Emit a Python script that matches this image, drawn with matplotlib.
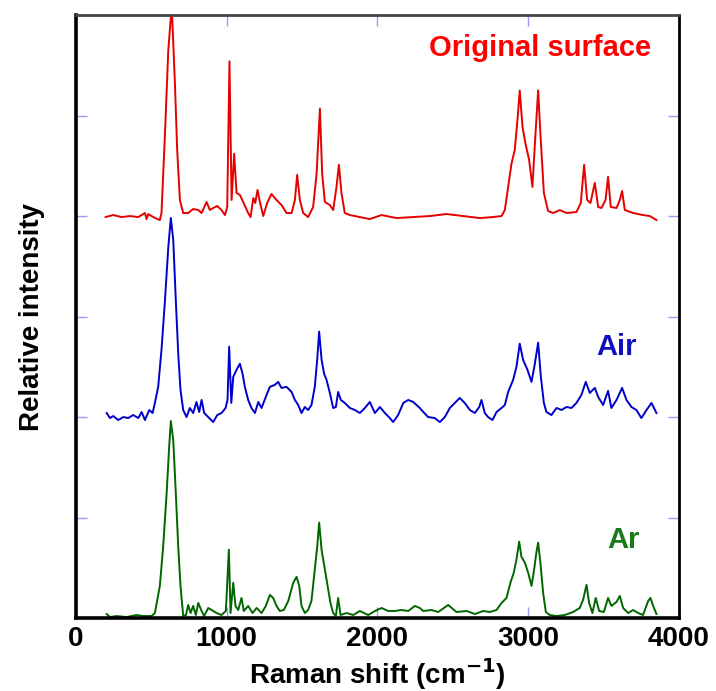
import matplotlib
matplotlib.use('Agg')
import matplotlib.pyplot as plt

# Espectros Raman (cm-1, intensidad relativa sobre la linea base)
red_x = [197, 248, 303, 358, 414, 458, 469, 480, 513, 557, 568, 591, 613, 630, 639, 657, 672, 690, 712, 745,
         778, 812, 834, 867, 889, 911, 938, 966, 989, 1004, 1019, 1033, 1050, 1066, 1088, 1110, 1143, 1159, 1177, 1190,
         1205, 1221, 1243, 1269, 1298, 1331, 1364, 1398, 1431, 1453, 1468, 1486, 1508, 1541, 1574, 1597, 1619, 1634, 1652, 1685,
         1707, 1729, 1745, 1762, 1784, 1818, 1884, 1950, 2028, 2127, 2238, 2348, 2459, 2569, 2680, 2768, 2824, 2846, 2868, 2890,
         2912, 2930, 2945, 2963, 2983, 3007, 3029, 3047, 3067, 3082, 3105, 3133, 3166, 3211, 3255, 3321, 3350, 3372, 3392, 3414,
         3443, 3465, 3487, 3514, 3531, 3549, 3587, 3609, 3624, 3642, 3697, 3763, 3808, 3852]
red_y = [-0.01, 0.01, -0.01, 0.0, -0.01, 0.03, -0.03, 0.02, -0.01, -0.04, 0.03, 0.82, 1.65, 1.98, 1.98, 1.32, 0.66, 0.16, 0.03, 0.03,
         0.07, 0.06, 0.03, 0.14, 0.06, 0.08, 0.10, 0.06, 0.01, 0.09, 1.54, 0.16, 0.62, 0.23, 0.21, 0.14, 0.03, -0.01, 0.18, 0.13,
         0.26, 0.14, 0.0, 0.13, 0.22, 0.16, 0.11, 0.03, 0.03, 0.16, 0.41, 0.16, 0.03, -0.01, 0.09, 0.42, 1.07, 0.42, 0.14, 0.11,
         0.06, 0.29, 0.51, 0.23, 0.03, 0.01, -0.01, -0.03, 0.01, -0.02, -0.01, 0.0, 0.02, 0.0, -0.02, -0.01, 0.0, 0.06, 0.29, 0.52,
         0.66, 0.96, 1.25, 0.89, 0.72, 0.56, 0.29, 0.76, 1.25, 0.82, 0.23, 0.05, 0.03, 0.06, 0.03, 0.04, 0.13, 0.51, 0.16, 0.13,
         0.33, 0.09, 0.08, 0.16, 0.39, 0.09, 0.08, 0.16, 0.25, 0.06, 0.03, 0.01, 0.0, -0.04]

blue_x = [204, 226, 248, 281, 314, 347, 380, 414, 436, 458, 487, 509, 524, 546, 568, 591, 613, 630, 646, 663,
          679, 694, 712, 734, 756, 778, 800, 818, 834, 851, 878, 911, 938, 966, 993, 1006, 1017, 1031, 1044, 1066,
          1088, 1106, 1121, 1143, 1165, 1188, 1210, 1232, 1265, 1287, 1320, 1342, 1364, 1398, 1431, 1453, 1475, 1497, 1519, 1541,
          1563, 1585, 1601, 1614, 1630, 1647, 1663, 1685, 1707, 1725, 1740, 1758, 1784, 1818, 1851, 1884, 1917, 1950, 1984, 2017,
          2050, 2083, 2105, 2138, 2172, 2205, 2238, 2282, 2293, 2337, 2381, 2415, 2448, 2481, 2514, 2547, 2580, 2614, 2647, 2676,
          2691, 2713, 2735, 2764, 2791, 2824, 2846, 2868, 2901, 2923, 2945, 2967, 2996, 3023, 3045, 3067, 3085, 3105, 3122, 3155,
          3189, 3222, 3255, 3288, 3321, 3354, 3383, 3410, 3443, 3465, 3498, 3531, 3553, 3587, 3624, 3653, 3686, 3719, 3752, 3786,
          3819, 3852]
blue_y = [0.04, -0.01, 0.01, -0.03, 0.0, -0.01, 0.02, -0.01, 0.05, -0.03, 0.07, 0.04, 0.14, 0.30, 0.67, 1.16, 1.69, 1.98, 1.76, 1.16,
          0.63, 0.27, 0.07, 0.0, 0.09, 0.04, 0.15, 0.05, 0.17, 0.04, 0.0, -0.05, 0.02, 0.04, 0.09, 0.17, 0.70, 0.14, 0.40, 0.47,
          0.53, 0.43, 0.30, 0.17, 0.09, 0.04, 0.15, 0.09, 0.22, 0.30, 0.32, 0.35, 0.29, 0.30, 0.25, 0.17, 0.12, 0.04, 0.10, 0.07,
          0.12, 0.30, 0.57, 0.85, 0.57, 0.43, 0.37, 0.24, 0.09, 0.10, 0.25, 0.17, 0.14, 0.09, 0.07, 0.04, 0.09, 0.15, 0.04, 0.10,
          0.04, -0.01, -0.05, 0.02, 0.14, 0.17, 0.15, 0.09, 0.07, 0.0, -0.01, -0.05, 0.0, 0.09, 0.14, 0.19, 0.14, 0.07, 0.04, 0.10,
          0.17, 0.04, 0.0, -0.03, 0.05, 0.09, 0.12, 0.25, 0.37, 0.50, 0.73, 0.57, 0.47, 0.35, 0.53, 0.74, 0.40, 0.14, 0.05, 0.02,
          0.09, 0.07, 0.10, 0.09, 0.14, 0.22, 0.35, 0.24, 0.29, 0.20, 0.12, 0.26, 0.09, 0.17, 0.29, 0.17, 0.10, 0.07, -0.01, 0.07,
          0.14, 0.04]

green_x = [204, 226, 270, 336, 403, 447, 502, 524, 540, 557, 579, 602, 619, 630, 646, 663, 679, 694, 712, 730,
           745, 761, 778, 796, 812, 834, 851, 878, 900, 933, 966, 995, 1015, 1026, 1044, 1059, 1077, 1099, 1114, 1143,
           1172, 1199, 1232, 1260, 1287, 1309, 1331, 1353, 1380, 1409, 1442, 1464, 1482, 1497, 1519, 1541, 1563, 1585, 1601, 1614,
           1630, 1652, 1670, 1689, 1707, 1725, 1740, 1756, 1796, 1840, 1884, 1939, 1984, 2028, 2072, 2116, 2160, 2205, 2249, 2282,
           2304, 2359, 2404, 2470, 2525, 2592, 2647, 2702, 2746, 2791, 2824, 2857, 2883, 2905, 2923, 2941, 2956, 2979, 3001, 3023,
           3040, 3056, 3067, 3082, 3100, 3118, 3144, 3189, 3244, 3299, 3343, 3365, 3388, 3405, 3427, 3449, 3472, 3503, 3531, 3553,
           3587, 3609, 3631, 3664, 3697, 3730, 3763, 3797, 3812, 3830, 3852]
green_y = [0.04, 0.01, 0.02, 0.01, 0.03, 0.02, 0.02, 0.05, 0.18, 0.32, 0.71, 1.24, 1.71, 1.96, 1.77, 1.24, 0.71, 0.32, 0.02, 0.03,
           0.13, 0.05, 0.12, 0.03, 0.15, 0.07, 0.02, 0.10, 0.08, 0.05, 0.03, 0.07, 0.68, 0.05, 0.35, 0.12, 0.08, 0.20, 0.07, 0.12,
           0.05, 0.10, 0.05, 0.12, 0.23, 0.20, 0.12, 0.07, 0.08, 0.17, 0.35, 0.41, 0.32, 0.12, 0.05, 0.08, 0.17, 0.48, 0.71, 0.95,
           0.68, 0.48, 0.32, 0.15, 0.05, 0.02, 0.20, 0.03, 0.05, 0.03, 0.07, 0.03, 0.07, 0.10, 0.07, 0.07, 0.08, 0.07, 0.12, 0.10,
           0.07, 0.08, 0.06, 0.13, 0.06, 0.07, 0.04, 0.07, 0.06, 0.08, 0.15, 0.20, 0.35, 0.45, 0.58, 0.76, 0.61, 0.55, 0.45, 0.32,
           0.48, 0.66, 0.75, 0.55, 0.25, 0.06, 0.03, 0.02, 0.03, 0.06, 0.10, 0.18, 0.33, 0.15, 0.05, 0.20, 0.07, 0.06, 0.20, 0.12,
           0.16, 0.22, 0.10, 0.05, 0.08, 0.05, 0.03, 0.17, 0.20, 0.12, 0.04]

labels = ['Original surface', 'Air', 'Ar']
offsets = [4, 2, 0]
colors = ['#e60000', '#0000cc', '#006600']
text_colors = ['#ff0000', '#1111bb', '#1a7a1a']
x_ticks = [0, 1000, 2000, 3000, 4000]

plt.rcParams['font.family'] = ['Liberation Sans', 'DejaVu Sans']
plt.rcParams['font.weight'] = 'bold'

fig = plt.figure(figsize=(7.16, 6.91), dpi=100)
ax = fig.add_axes([0.106, 0.1056, 0.842, 0.8726])

series = [(red_x, red_y), (blue_x, blue_y), (green_x, green_y)]
for (xs, ys), off, c in zip(series, offsets, colors):
    ax.plot(xs, [v + off for v in ys], color=c, linewidth=1.4)

# etiquetas de cada espectro
ax.text(3814, 5.67, labels[0], color=text_colors[0], fontsize=21, fontweight='bold', ha='right', va='center')
ax.text(3721, 2.70, labels[1], color=text_colors[1], fontsize=21, fontweight='bold', ha='right', va='center')
ax.text(3741, 0.78, labels[2], color=text_colors[2], fontsize=21, fontweight='bold', ha='right', va='center')

ax.set_xlim(0, 4000)
ax.set_ylim(0, 6)
ax.set_xticks(x_ticks)
ax.set_xticklabels([str(t) for t in x_ticks])
ax.set_yticks([1, 2, 3, 4, 5])
ax.set_yticklabels([])
ax.tick_params(axis='both', direction='in', length=8, width=1, color='#9999ff',
               top=True, right=True, labelsize=20, pad=6)
for lab in ax.get_xticklabels():
    lab.set_fontweight('bold')

ax.set_xlabel('Raman shift (cm$^{\\mathbf{-1}}$)', fontsize=20, fontweight='bold', va='center')
ax.xaxis.set_label_coords(0.5, -0.093)
ax.set_ylabel('Relative intensity', fontsize=20, fontweight='bold', labelpad=16)

ax.spines['left'].set_linewidth(2.6)
ax.spines['bottom'].set_linewidth(2.6)
ax.spines['right'].set_linewidth(2.0)
ax.spines['top'].set_linewidth(2.0)
ax.spines['top'].set_color('#444444')

fig.savefig('out.png', dpi=100)
